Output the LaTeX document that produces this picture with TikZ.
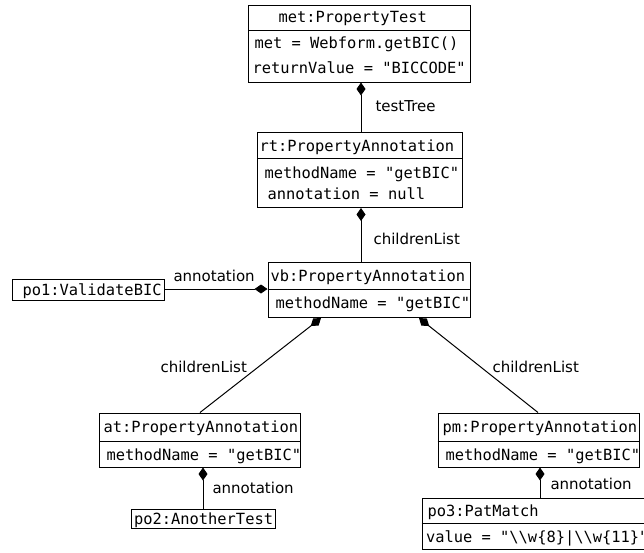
\documentclass[tikz,border=0pt]{standalone}
\usepackage{fontspec}
\setmainfont{DejaVu Sans}
\setmonofont{DejaVu Sans Mono}
\usetikzlibrary{arrows.meta}
\begin{document}
\begin{tikzpicture}[x=1pt,y=-1pt,line width=1pt,
  box/.style={draw,line width=1pt,inner sep=0pt,fill=white},
  mono/.style={font=\fontsize{15.4}{18}\ttfamily,inner sep=0pt,anchor=west,text height=11pt,text depth=0pt},
  lbl/.style={font=\fontsize{15}{18}\selectfont,inner sep=0pt,anchor=west,text height=11pt,text depth=0pt},
  comp/.style={-{Diamond[length=13pt,width=9pt]}}]
\useasboundingbox (0,0) rectangle (644,552);
\fill[white] (0,0) rectangle (644,552);

% met:PropertyTest
\node[box,minimum width=222,minimum height=77] (met) at (359.5,43.5) {};
\draw (met.west |- 0,30) -- (met.east |- 0,30);
\node[mono] (metT) at (278,17) {met:PropertyTest};
\node[mono] (metA) at (254,43) {met = Webform.getBIC()};
\node[mono] (metB) at (252,68) {returnValue = "BICCODE"};

% rt
\node[box,minimum width=205,minimum height=75] (rt) at (360,170) {};
\draw (rt.west |- 0,158) -- (rt.east |- 0,158);
\node[mono] (rtT) at (259,145.5) {rt:PropertyAnnotation};
\node[mono] (rtA) at (264,173) {methodName = "getBIC"};
\node[mono] (rtB) at (267,194) {annotation = null};

% vb
\node[box,minimum width=202,minimum height=55] (vb) at (369,290) {};
\draw (vb.west |- 0,289) -- (vb.east |- 0,289);
\node[mono] (vbT) at (270,276) {vb:PropertyAnnotation};
\node[mono] (vbA) at (275,303) {methodName = "getBIC"};

% po1
\node[box,minimum width=152,minimum height=21] (po1) at (88.3,289.5) {};
\node[mono] (po1T) at (22,289.5) {po1:ValidateBIC};

% at
\node[box,minimum width=201,minimum height=54] (at) at (200,440) {};
\draw (at.west |- 0,441) -- (at.east |- 0,441);
\node[mono] (atT) at (103,427) {at:PropertyAnnotation};
\node[mono] (atA) at (106,454.5) {methodName = "getBIC"};

% pm
\node[box,minimum width=201,minimum height=54] (pm) at (538.5,440) {};
\draw (pm.west |- 0,441) -- (pm.east |- 0,441);
\node[mono] (pmT) at (442,427) {pm:PropertyAnnotation};
\node[mono] (pmA) at (445,454.5) {methodName = "getBIC"};

% po2
\node[box,minimum width=144,minimum height=19] (po2) at (203.5,518.5) {};
\node[mono] (po2T) at (133.5,518.5) {po2:AnotherTest};

% po3
\node[box,minimum width=240,minimum height=51] (po3) at (542,523.5) {};
\draw (po3.west |- 0,523) -- (po3.east |- 0,523);
\node[mono] (po3T) at (427,511) {po3:PatMatch};
\node[mono] (po3A) at (425.5,537) {value = "\textbackslash\textbackslash w\{8\}|\textbackslash\textbackslash w\{11\}"};

% connectors
\draw[comp] (rt.north -| 361,0) -- (met.south -| 361,0);
\draw[comp] (vb.north -| 361,0) -- (rt.south -| 361,0);
\draw[comp] (po1.east |- 0,289) -- (vb.west |- 0,289);
\draw[comp] (at.north -| 200,0) -- (vb.south -| 321,0);
\draw[comp] (pm.north -| 538,0) -- (vb.south -| 419,0);
\draw[comp] (po2.north -| 203,0) -- (at.south -| 203,0);
\draw[comp] (po3.north -| 540,0) -- (pm.south -| 540,0);

% labels
\node[lbl] (l1) at (375,106) {testTree};
\node[lbl] (l2) at (373,239) {childrenList};
\node[lbl] (l3) at (173,276) {annotation};
\node[lbl] (l4) at (160,366.5) {childrenList};
\node[lbl] (l5) at (492,366.5) {childrenList};
\node[lbl] (l6) at (212,487.5) {annotation};
\node[lbl] (l7) at (550,484) {annotation};
\end{tikzpicture}
\end{document}
